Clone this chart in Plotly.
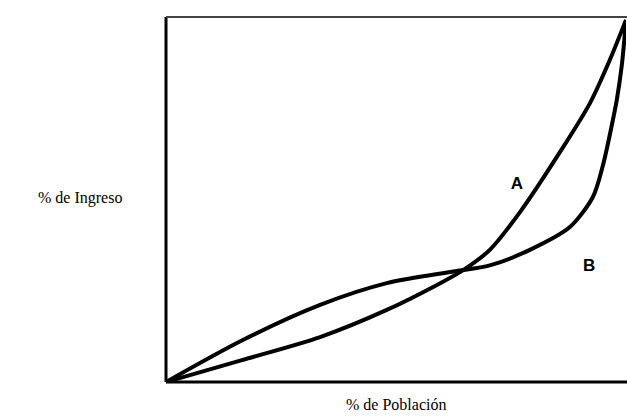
import plotly.graph_objects as go

# Curve A (convex Lorenz curve)
a_x = [0.0, 0.167, 0.335, 0.480, 0.589, 0.646, 0.704, 0.770, 0.857, 0.922, 0.965, 1.0]
a_y = [0.0, 0.061, 0.124, 0.199, 0.268, 0.309, 0.365, 0.470, 0.636, 0.771, 0.890, 1.0]

# Curve B (S-shaped)
b_x = [0.0, 0.167, 0.335, 0.480, 0.624, 0.704, 0.791, 0.878, 0.928, 0.950, 0.967, 0.980, 0.991, 1.0]
b_y = [0.0, 0.116, 0.213, 0.273, 0.305, 0.322, 0.365, 0.428, 0.511, 0.599, 0.696, 0.779, 0.876, 1.0]

curve_labels = ["A", "B"]
label_x = [0.763, 0.920]
label_y = [0.544, 0.318]

x_title = "% de Población"
y_title = "% de Ingreso"

fig = go.Figure()
for xs, ys in ((a_x, a_y), (b_x, b_y)):
    fig.add_trace(go.Scatter(x=xs, y=ys, mode="lines",
                             line=dict(color="black", width=4, shape="spline", smoothing=0.8),
                             showlegend=False, hoverinfo="skip"))
fig.add_trace(go.Scatter(x=label_x, y=label_y, mode="text", text=curve_labels,
                         textfont=dict(family="Liberation Sans", size=17, color="black"),
                         texttemplate="<b>%{text}</b>",
                         showlegend=False, hoverinfo="skip"))

# box lines (left, top, bottom)
fig.add_shape(type="line", xref="paper", yref="paper", x0=0, x1=0, y0=0, y1=1.0,
              line=dict(color="black", width=3))
fig.add_shape(type="line", xref="paper", yref="paper", x0=0, x1=1.003, y0=1.0, y1=1.0,
              line=dict(color="#444444", width=2))
fig.add_shape(type="line", xref="paper", yref="paper", x0=0, x1=1.003, y0=0, y1=0,
              line=dict(color="black", width=3))

fig.add_annotation(xref="paper", yref="paper", x=-0.187, y=0.505,
                   xanchor="center", yanchor="middle", text=y_title, showarrow=False,
                   font=dict(family="Liberation Serif", size=16, color="black"))
fig.add_annotation(xref="paper", yref="paper", x=0.5, y=-0.063,
                   xanchor="center", yanchor="middle", text=x_title, showarrow=False,
                   font=dict(family="Liberation Serif", size=16, color="black"))

fig.update_xaxes(range=[0, 1], visible=False, fixedrange=True)
fig.update_yaxes(range=[0, 1.008], visible=False, fixedrange=True)
fig.update_layout(width=627, height=417, margin=dict(l=166, r=1, t=17, b=35),
                  plot_bgcolor="white", paper_bgcolor="white")

fig.write_html("out.html", config={"displayModeBar": False},
               post_script="document.body.style.margin='0';document.body.style.padding='0';document.body.style.overflow='hidden';")
